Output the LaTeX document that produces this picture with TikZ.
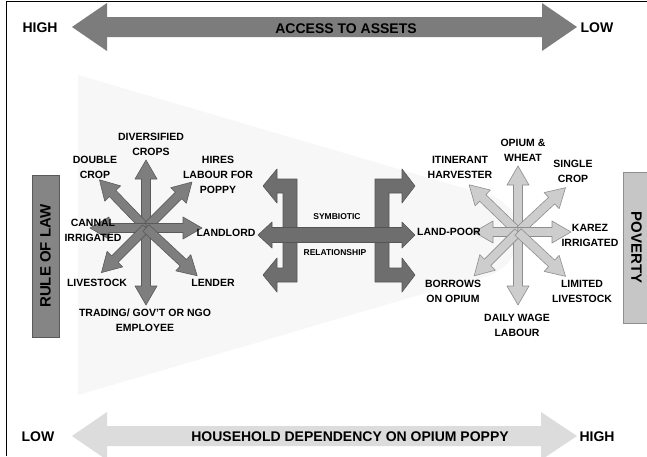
\documentclass[tikz,border=0pt]{standalone}
\usepackage{fontspec}
\setmainfont{Liberation Sans}
\definecolor{spokeD}{HTML}{7E7E7E}
\definecolor{spokeDline}{HTML}{5A5A5A}
\definecolor{spokeL}{HTML}{CDCDCD}
\definecolor{spokeLline}{HTML}{8E8E8E}
\definecolor{midgrey}{HTML}{6E6E6E}
\definecolor{midline}{HTML}{555555}
\definecolor{topgrey}{HTML}{7C7C7C}
\definecolor{botgrey}{HTML}{DCDCDC}
\definecolor{funnelgrey}{HTML}{F7F7F7}
\definecolor{rolgrey}{HTML}{858585}
\definecolor{povgrey}{HTML}{C6C6C6}
\newcommand{\spokeat}[4]{%
  \begin{scope}[shift={(#1)},rotate=#2]
    \path[#4] (0,-4.5) -- ({#3-19},-4.5) -- ({#3-19},-11) -- (#3,0) -- ({#3-19},11) -- ({#3-19},4.5) -- (0,4.5) -- cycle;
  \end{scope}}
\begin{document}
\begin{tikzpicture}[x=1pt,y=-1pt,
  lbl/.style={font=\fontsize{10.5}{15}\selectfont\bfseries, align=center, inner sep=0pt},
  small/.style={font=\fontsize{8.5}{10}\selectfont\bfseries, inner sep=0pt},
  axl/.style={font=\fontsize{14}{16}\selectfont\bfseries, inner sep=0pt},
  darkspoke/.style={fill=spokeD, draw=spokeDline, line width=0.6pt, line join=round},
  lightspoke/.style={fill=spokeL, draw=spokeLline, line width=0.6pt, line join=round},
  midshape/.style={fill=midgrey, draw=midline, line width=0.6pt, line join=round},
  sidebox/.style={draw=#1, line width=0.8pt, inner sep=0pt, font=\fontsize{15}{17}\selectfont\bfseries}]
\useasboundingbox (0,0) rectangle (647,456);
\fill[white] (0,0) rectangle (647,456);
% funnel
\fill[funnelgrey] (78,75) -- (470,190) .. controls (535,196) and (535,274) .. (470,280) -- (78,395) -- cycle;
% frame
\draw[line width=1pt] (6.5,456) -- (6.5,1) -- (647,1);
% top axis arrow
\path[fill=topgrey] (72,27) -- (107,3) -- (107,17) -- (542,17) -- (542,3) -- (577,27) -- (542,51) -- (542,37) -- (107,37) -- (107,51) -- cycle;
\node[axl] (thigh) at (40,28) {HIGH};
\node[axl] (tacc) at (346,29) {ACCESS TO ASSETS};
\node[axl] (tlow) at (597,28) {LOW};
% bottom axis arrow
\path[fill=botgrey] (72,436) -- (107,412) -- (107,426) -- (541,426) -- (541,412) -- (577,436) -- (541,460) -- (541,446) -- (107,446) -- (107,460) -- cycle;
\node[axl] (blow) at (38,437) {LOW};
\node[axl] (bhh) at (350,437) {HOUSEHOLD DEPENDENCY ON OPIUM POPPY};
\node[axl] (bhigh) at (597,437) {HIGH};
% side boxes
\node[sidebox=spokeDline, fill=rolgrey, rotate=90, minimum width=162pt, minimum height=27pt] (rol) at (45.5,256) {RULE OF LAW};
\node[sidebox=spokeLline, fill=povgrey, rotate=-90, minimum width=151pt, minimum height=27pt] (pov) at (636.5,247.5) {POVERTY};
% left starburst
\coordinate (LC) at (146,228);
\spokeat{LC}{90}{68}{darkspoke}
\spokeat{LC}{-90}{77}{darkspoke}
\spokeat{LC}{134}{67}{darkspoke}
\spokeat{LC}{45}{65}{darkspoke}
\spokeat{LC}{0}{56}{darkspoke}
\spokeat{LC}{180}{56}{darkspoke}
\spokeat{LC}{-135}{63}{darkspoke}
\spokeat{LC}{-43}{70}{darkspoke}
% right starburst
\coordinate (RC) at (518,232);
\spokeat{RC}{90}{66}{lightspoke}
\spokeat{RC}{-90}{73}{lightspoke}
\spokeat{RC}{136}{68}{lightspoke}
\spokeat{RC}{43}{65}{lightspoke}
\spokeat{RC}{180}{44}{lightspoke}
\spokeat{RC}{0}{53}{lightspoke}
\spokeat{RC}{-135}{62}{lightspoke}
\spokeat{RC}{-43}{65}{lightspoke}
% middle: brackets and double arrow
\path[midshape] (297,179) -- (277,179) -- (277,169) -- (263,186) -- (277,203) -- (277,193) -- (283,193) -- (283,268) -- (277,268) -- (277,258) -- (263,275) -- (277,292) -- (277,282) -- (297,282) -- cycle;
\path[midshape] (375,179) -- (402,179) -- (402,169) -- (415,186) -- (402,203) -- (402,193) -- (389,193) -- (389,268) -- (402,268) -- (402,258) -- (415,275) -- (402,292) -- (402,282) -- (375,282) -- cycle;
\path[midshape] (258,235) -- (272,222) -- (272,227.5) -- (402,227.5) -- (402,222) -- (415,235) -- (402,248) -- (402,242.5) -- (272,242.5) -- (272,248) -- cycle;
\node[small] (sym) at (337,217) {SYMBIOTIC};
\node[small] (rel) at (335,253) {RELATIONSHIP};
% left labels
\node[lbl] (div) at (151,144) {DIVERSIFIED\\CROPS};
\node[lbl] (dbl) at (95,167) {DOUBLE\\CROP};
\node[lbl] (hir) at (218,175) {HIRES\\LABOUR FOR\\POPPY};
\node[lbl] (can) at (93,230) {CANNAL\\IRRIGATED};
\node[lbl] (lan) at (226,233) {LANDLORD};
\node[lbl] (liv) at (97,283) {LIVESTOCK};
\node[lbl] (len) at (213,283) {LENDER};
\node[lbl] (tra) at (145,320) {TRADING/ GOV'T OR NGO\\EMPLOYEE};
% right labels
\node[lbl] (opi) at (523,150) {OPIUM \&\\WHEAT};
\node[lbl] (iti) at (460,167) {ITINERANT\\HARVESTER};
\node[lbl] (sin) at (573,171) {SINGLE\\CROP};
\node[lbl] (lpo) at (449,232) {LAND-POOR};
\node[lbl] (kar) at (590,235) {KAREZ\\IRRIGATED};
\node[lbl] (bor) at (453,291) {BORROWS\\ON OPIUM};
\node[lbl] (lim) at (582,291) {LIMITED\\LIVESTOCK};
\node[lbl] (dai) at (517,325) {DAILY WAGE\\LABOUR};
\end{tikzpicture}
\end{document}
